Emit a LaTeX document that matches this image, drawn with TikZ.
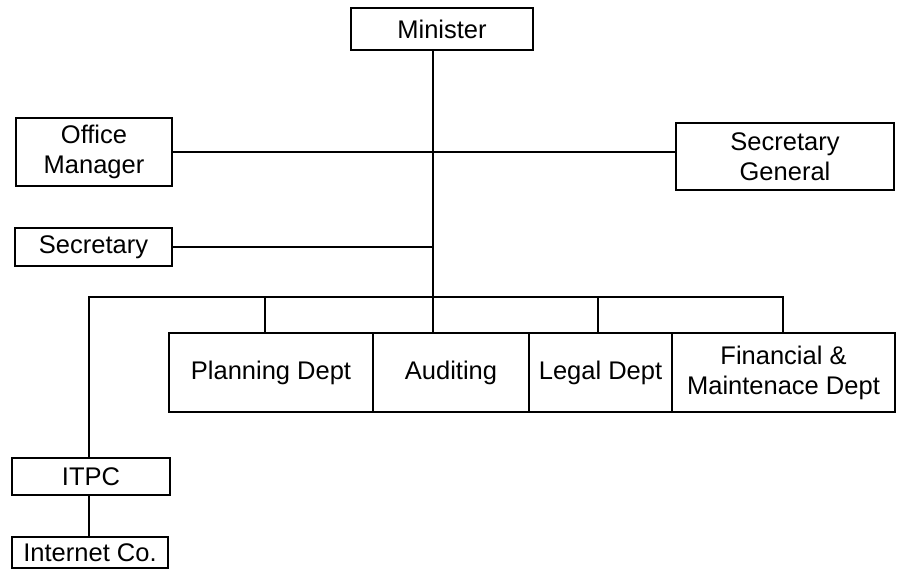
\documentclass[tikz,border=0pt]{standalone}
\usepackage{fontspec}
\setmainfont{Liberation Sans}
\usetikzlibrary{calc}
\tikzset{
  unit/.style={draw, line width=1.9pt, inner sep=0pt, align=center,
    font=\fontsize{25.5}{30}\selectfont},
  link/.style={line width=1.2pt},
}
\begin{document}
\begin{tikzpicture}[x=1pt,y=-1pt]
			%%%%% START %%%%%
			\useasboundingbox (0,0) rectangle (900,578);

			% top level
			\node[unit, minimum width=182pt, minimum height=42pt] (minister) at (442,29) {Minister};
			\node[unit, minimum width=156pt, minimum height=68pt] (office) at (94,152) {Office\\Manager};
			\node[unit, minimum width=218pt, minimum height=67pt] (secgen) at (785,156.5) {Secretary\\General};
			\node[unit, minimum width=157pt, minimum height=38pt] (secr) at (93.5,247) {Secretary};

			% departments
			\node[unit, minimum width=204pt, minimum height=79pt] (plan) at (271,372.5) {Planning Dept};
			\node[unit, minimum width=156pt, minimum height=79pt] (audit) at (451,372.5) {Auditing};
			\node[unit, minimum width=143pt, minimum height=79pt] (legal) at (600.5,372.5) {Legal Dept};
			\node[unit, minimum width=223pt, minimum height=79pt] (fin) at (783.5,372.5) {Financial \&\\Maintenace Dept};

			% left branch
			\node[unit, minimum width=158pt, minimum height=37pt] (itpc) at (91,476.5) {ITPC};
			\node[unit, minimum width=156pt, minimum height=31pt] (inet) at (90,552.5) {Internet Co.};

			% bus
			\coordinate (trunk) at (433,297);
			\coordinate (busL) at (89,297);
			\coordinate (busR) at (783,297);
			\coordinate (dPlan) at (265,297);
			\coordinate (dLegal) at (598,297);

			\draw[link] (minister.south -| trunk) -- (trunk |- audit.north);
			\draw[link] (office.east) -- (office.east -| secgen.west);
			\draw[link] (secr.east) -- (secr.east -| trunk);
			\draw[link] (busL |- itpc.north) -- (busL) -- (busR) -- (busR |- fin.north);
			\draw[link] (dPlan) -- (dPlan |- plan.north);
			\draw[link] (dLegal) -- (dLegal |- legal.north);
			\draw[link] (busL |- itpc.south) -- (busL |- inet.north);

			%%%%% END %%%%%
\end{tikzpicture}
\end{document}
